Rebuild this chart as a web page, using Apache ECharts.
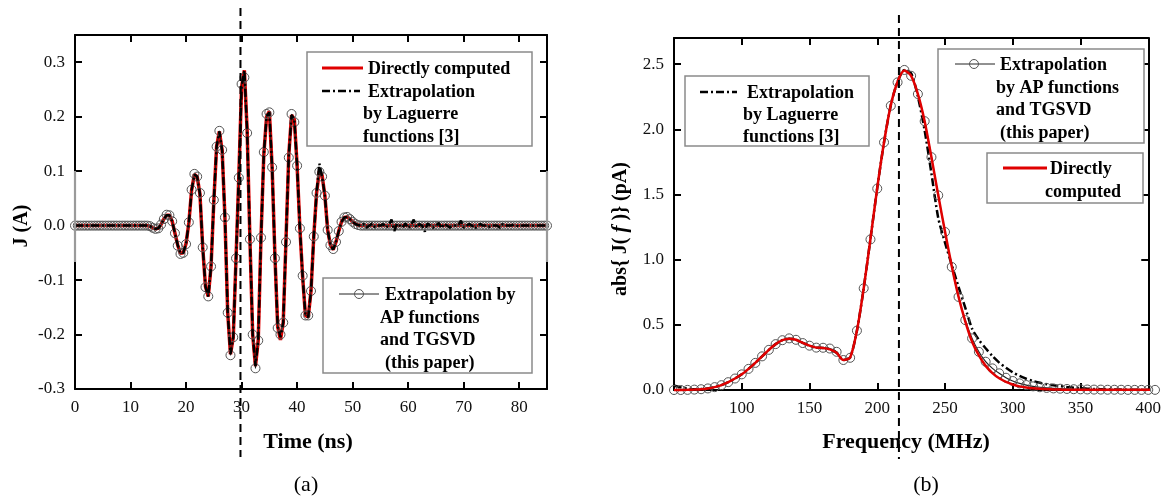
<!DOCTYPE html>
<html>
<head>
<meta charset="utf-8">
<script src="https://cdn.jsdelivr.net/npm/echarts@6/dist/echarts.min.js"></script>
<style>
html,body{margin:0;padding:0;background:#fff;}
#chart{width:1164px;height:502px;}
</style>
</head>
<body>
<div id="chart"></div>
<script>
// ---------- DATA ----------
// (a) time-domain current, sampled every 0.5 ns from 0 ns
const timeStartNs = 0;
const timeStepNs = 0.5;
const jDirect = [
 0,0,0,0,0,0,0,0,0,0,
 0,0,0,0,0,0,0,0,0,0,
 0,0,0,0,0,0,0,-0.001,-0.004,-0.006,
 -0.005,0.002,0.012,0.019,0.019,0.008,-0.014,-0.036,-0.051,-0.050,
 -0.033,0.005,0.065,0.094,0.090,0.058,-0.040,-0.112,-0.130,-0.075,
 0.045,0.145,0.173,0.138,0.015,-0.160,-0.236,-0.205,-0.060,0.090,
 0.255,0.285,0.175,-0.025,-0.200,-0.258,-0.210,-0.020,0.130,0.200,
 0.210,0.107,-0.055,-0.185,-0.210,-0.178,-0.025,0.130,0.203,0.195,
 0.110,-0.005,-0.095,-0.165,-0.168,-0.120,-0.020,0.060,0.100,0.092,
 0.055,-0.008,-0.036,-0.044,-0.030,-0.010,0.007,0.015,0.016,0.012,
 0.007,0.003,0.001,0,0,0,0,0,0,0,
 0,0,0,0,0,0,0,0,0,0,
 0,0,0,0,0,0,0,0,0,0,
 0,0,0,0,0,0,0,0,0,0,
 0,0,0,0,0,0,0,0,0,0,
 0,0,0,0,0,0,0,0,0,0,
 0,0,0,0,0,0,0,0,0,0,
 0
];
const jAP = [
 0,0,0,0,0,0,0,0,0,0,
 0,0,0,0,0,0,0,0,0,0,
 0,0,0,0,0,0,0,-0.001,-0.004,-0.006,
 -0.005,0.002,0.012,0.020,0.019,0.008,-0.014,-0.037,-0.052,-0.050,
 -0.034,0.006,0.066,0.095,0.090,0.060,-0.040,-0.113,-0.130,-0.075,
 0.047,0.145,0.174,0.139,0.015,-0.160,-0.238,-0.205,-0.060,0.088,
 0.260,0.272,0.170,-0.025,-0.200,-0.262,-0.211,-0.022,0.135,0.205,
 0.208,0.107,-0.060,-0.188,-0.200,-0.178,-0.030,0.125,0.205,0.190,
 0.110,-0.005,-0.092,-0.165,-0.165,-0.120,-0.020,0.060,0.099,0.090,
 0.055,-0.008,-0.036,-0.043,-0.030,-0.010,0.007,0.015,0.016,0.012,
 0.007,0.003,0.001,0,0,0,0,0,0,0,
 0,0,0,0,0,0,0,0,0,0,
 0,0,0,0,0,0,0,0,0,0,
 0,0,0,0,0,0,0,0,0,0,
 0,0,0,0,0,0,0,0,0,0,
 0,0,0,0,0,0,0,0,0,0,
 0,0,0,0,0,0,0,0,0,0,
 0
];
const jLaguerre = [
 0,0,0,0,0,0,0,0,0,0,
 0,0,0,0,0,0,0,0,0,0,
 0,0,0,0,0,0,0,-0.001,-0.004,-0.006,
 -0.005,0.002,0.012,0.019,0.019,0.008,-0.014,-0.036,-0.051,-0.050,
 -0.033,0.005,0.065,0.094,0.090,0.058,-0.040,-0.112,-0.130,-0.075,
 0.045,0.145,0.173,0.138,0.015,-0.160,-0.236,-0.205,-0.060,0.090,
 0.255,0.285,0.175,-0.025,-0.200,-0.258,-0.210,-0.020,0.130,0.200,
 0.208,0.107,-0.055,-0.185,-0.205,-0.178,-0.025,0.130,0.203,0.195,
 0.110,-0.005,-0.095,-0.165,-0.168,-0.120,-0.020,0.060,0.114,0.090,
 0.055,-0.008,-0.036,-0.044,-0.030,-0.010,0.007,0.015,0.016,0.012,
 0.007,0.003,0.001,0,0.003,-0.004,0,0.004,-0.003,0,
 0,0.003,-0.004,0,0.011,-0.010,0.004,0,-0.004,0.004,
 -0.005,0,0.011,-0.004,0.003,0,-0.011,0.004,0,-0.004,
 0,0.005,-0.005,0.004,0,-0.004,0,0,0,0.009,
 -0.004,0,0.003,0,-0.006,0,0.003,0,0,-0.003,
 0,0,0,-0.004,0.003,0,0,0,0.002,0,
 -0.002,0,0,0,0,0,0,0,0,0,
 0
];
const timeMarkerNs = 29.8;

// (b) spectrum magnitude, sampled every 5 MHz from 50 MHz
const freqStartMHz = 50;
const freqStepMHz = 5;
const aDirect = [
 0.000,0.000,0.001,0.003,0.006,0.012,0.022,0.037,0.060,0.088,
 0.120,0.162,0.208,0.258,0.308,0.352,0.382,0.394,0.385,0.362,
 0.340,0.325,0.323,0.312,0.285,0.230,0.250,0.455,0.780,1.160,
 1.550,1.900,2.185,2.365,2.450,2.410,2.270,2.060,1.785,1.495,
 1.215,0.950,0.715,0.525,0.370,0.265,0.185,0.130,0.090,0.062,
 0.042,0.028,0.019,0.013,0.009,0.006,0.004,0.003,0.002,0.002,
 0.001,0.001,0.001,0.001,0.001,0.001,0.001,0.001,0.001,0.001,
 0.001,0.001
];
const aAP = [
 0.000,0.000,0.001,0.003,0.006,0.012,0.022,0.037,0.060,0.088,
 0.120,0.162,0.208,0.258,0.308,0.352,0.382,0.396,0.385,0.360,
 0.340,0.325,0.324,0.318,0.293,0.230,0.247,0.455,0.780,1.155,
 1.545,1.900,2.180,2.360,2.455,2.410,2.270,2.062,1.786,1.493,
 1.212,0.944,0.714,0.536,0.396,0.293,0.217,0.166,0.128,0.094,
 0.069,0.051,0.038,0.028,0.021,0.016,0.012,0.010,0.008,0.006,
 0.005,0.004,0.003,0.003,0.002,0.002,0.002,0.001,0.001,0.001,
 0.001,0.001
];
const aLaguerre = [
 0.035,0.020,0.010,0.006,0.007,0.012,0.022,0.037,0.060,0.088,
 0.120,0.162,0.208,0.258,0.308,0.352,0.382,0.394,0.385,0.362,
 0.340,0.325,0.323,0.312,0.285,0.230,0.250,0.455,0.780,1.160,
 1.550,1.900,2.185,2.365,2.455,2.430,2.250,1.990,1.660,1.320,
 1.130,0.960,0.790,0.630,0.470,0.385,0.320,0.260,0.210,0.170,
 0.135,0.108,0.086,0.069,0.055,0.044,0.036,0.029,0.023,0.018,
 0.014,0.010,0.008,0.006,0.005,0.004,0.003,0.002,0.002,0.001,
 0.001,0.001
];
const freqMarkerMHz = 216;

// ---------- BUILD ----------
const FONT = "'Liberation Serif','Times New Roman',serif";
const toPairs = (start, step, arr) => arr.map((v, i) => [start + i * step, v]);

const dashDot = [8, 3, 2, 3];

function axisBase(extra) {
  return Object.assign({
    type: 'value',
    axisLine: { show: true, onZero: false, lineStyle: { color: '#000', width: 2 } },
    axisTick: { show: true, inside: true, length: 7, lineStyle: { color: '#000', width: 2 } },
    splitLine: { show: false },
    axisLabel: { color: '#111', fontFamily: FONT, fontSize: 17, margin: 10 }
  }, extra);
}

const chart = echarts.init(document.getElementById('chart'), null, { renderer: 'canvas' });

const option = {
  backgroundColor: '#fff',
  animation: false,
  grid: [
    { left: 75, top: 35, width: 472, height: 354 },
    { left: 674, top: 38, width: 475, height: 352 }
  ],
  xAxis: [
    axisBase({ gridIndex: 0, position: 'bottom', min: 0, max: 85, interval: 10,
      axisLabel: { color: '#111', fontFamily: FONT, fontSize: 17, margin: 10, showMaxLabel: false } }),
    axisBase({ gridIndex: 0, position: 'top', min: 0, max: 85, interval: 10, axisLabel: { show: false } }),
    axisBase({ gridIndex: 1, position: 'bottom', min: 50, max: 400, interval: 50,
      axisLabel: { color: '#111', fontFamily: FONT, fontSize: 17, margin: 10, showMinLabel: false } }),
    axisBase({ gridIndex: 1, position: 'top', min: 50, max: 400, interval: 50, axisLabel: { show: false } })
  ],
  yAxis: [
    axisBase({ gridIndex: 0, position: 'left', min: -0.3, max: 0.35, interval: 0.1,
      axisLabel: { color: '#111', fontFamily: FONT, fontSize: 17, margin: 10, showMaxLabel: false,
        formatter: v => v.toFixed(1) } }),
    axisBase({ gridIndex: 0, position: 'right', min: -0.3, max: 0.35, interval: 0.1, axisLabel: { show: false } }),
    axisBase({ gridIndex: 1, position: 'left', min: 0, max: 2.7, interval: 0.5,
      axisLabel: { color: '#111', fontFamily: FONT, fontSize: 17, margin: 10, showMaxLabel: false,
        formatter: v => v.toFixed(1) } }),
    axisBase({ gridIndex: 1, position: 'right', min: 0, max: 2.7, interval: 0.5, axisLabel: { show: false } })
  ],
  series: [
    // (a)
    { name: 'Directly computed (a)', type: 'line', xAxisIndex: 0, yAxisIndex: 0, clip: false,
      data: toPairs(timeStartNs, timeStepNs, jDirect), showSymbol: false, z: 2,
      lineStyle: { color: '#e00000', width: 3.5 } },
    { name: 'AP (a)', type: 'line', xAxisIndex: 0, yAxisIndex: 0, clip: false,
      data: toPairs(timeStartNs, timeStepNs, jAP), z: 3,
      symbol: 'circle', symbolSize: 9, showSymbol: true,
      itemStyle: { color: 'rgba(0,0,0,0)', borderColor: '#555', borderWidth: 1 },
      lineStyle: { color: '#222', width: 1 } },
    { name: 'Laguerre (a)', type: 'line', xAxisIndex: 0, yAxisIndex: 0, clip: false,
      data: toPairs(timeStartNs, timeStepNs, jLaguerre), showSymbol: false, z: 4,
      lineStyle: { color: '#000', width: 2.5, type: dashDot } },
    // (b)
    { name: 'Laguerre (b)', type: 'line', xAxisIndex: 2, yAxisIndex: 2, clip: false,
      data: toPairs(freqStartMHz, freqStepMHz, aLaguerre), showSymbol: false, z: 2, smooth: 0.25,
      lineStyle: { color: '#000', width: 2.5, type: dashDot } },
    { name: 'AP (b)', type: 'line', xAxisIndex: 2, yAxisIndex: 2, clip: false,
      data: toPairs(freqStartMHz, freqStepMHz, aAP), z: 3, smooth: 0.25,
      symbol: 'circle', symbolSize: 9, showSymbol: true,
      itemStyle: { color: 'rgba(0,0,0,0)', borderColor: '#555', borderWidth: 1 },
      lineStyle: { color: '#222', width: 1.2 } },
    { name: 'Directly computed (b)', type: 'line', xAxisIndex: 2, yAxisIndex: 2, clip: false,
      data: toPairs(freqStartMHz, freqStepMHz, aDirect), showSymbol: false, z: 4, smooth: 0.25,
      lineStyle: { color: '#e00000', width: 2.5 } }
  ]
};
chart.setOption(option);

// ---------- GRAPHIC (legends, titles, markers) ----------
function txt(x, y, s, o) {
  o = o || {};
  return { type: 'text', x: x, y: y, rotation: o.rotation || 0, z: 200,
    style: { text: s, fontFamily: FONT, fontSize: o.size || 18, fontWeight: o.weight || 'bold',
      fill: '#000', align: o.align || 'left', verticalAlign: 'middle', rich: o.rich } };
}
function line(x1, y1, x2, y2, stroke, w, dash, z) {
  return { type: 'line', z: z || 150, shape: { x1: x1, y1: y1, x2: x2, y2: y2 },
    style: { stroke: stroke, lineWidth: w, lineDash: dash || null } };
}
function box(x, y, w, h) {
  return { type: 'rect', z: 120, shape: { x: x, y: y, width: w, height: h },
    style: { fill: '#fff', stroke: '#8a8a8a', lineWidth: 1.5 } };
}
function circ(cx, cy) {
  return { type: 'circle', z: 160, shape: { cx: cx, cy: cy, r: 4.5 },
    style: { fill: 'rgba(0,0,0,0)', stroke: '#555', lineWidth: 1 } };
}

const xa = chart.convertToPixel({ xAxisIndex: 0 }, timeMarkerNs);
const xb = chart.convertToPixel({ xAxisIndex: 2 }, freqMarkerMHz);

const g = [];
// vertical dashed markers
g.push(line(xa, 8, xa, 457, '#000', 2, [8, 5], 110));
g.push(line(xb, 15, xb, 459, '#000', 2, [8, 5], 110));
// faint artifact segments on left chart frame
g.push(line(75, 171, 75, 262, '#9a9a9a', 2.2, null, 115));
g.push(line(547, 171, 547, 262, '#9a9a9a', 2.2, null, 115));

// (a) legend top
g.push(box(307, 52, 225, 94));
g.push(line(322, 68, 363, 68, '#e00000', 3));
g.push(txt(368, 69, 'Directly computed'));
g.push(line(322, 91, 360, 91, '#000', 2.5, dashDot));
g.push(txt(368, 92, 'Extrapolation'));
g.push(txt(363, 114, 'by Laguerre'));
g.push(txt(363, 137, 'functions [3]'));
// (a) legend bottom
g.push(box(323, 278, 209, 95));
g.push(line(339, 294, 379, 294, '#222', 1));
g.push(circ(359, 294));
g.push(txt(385, 295, 'Extrapolation by'));
g.push(txt(380, 318, 'AP functions'));
g.push(txt(380, 340, 'and TGSVD'));
g.push(txt(385, 363, '(this paper)'));

// (b) legend left
g.push(box(685, 76, 184, 70));
g.push(line(700, 92, 737, 92, '#000', 2.5, dashDot));
g.push(txt(747, 93, 'Extrapolation'));
g.push(txt(743, 115, 'by Laguerre'));
g.push(txt(743, 137, 'functions [3]'));
// (b) legend right top
g.push(box(938, 49, 206, 94));
g.push(line(955, 64, 995, 64, '#222', 1));
g.push(circ(974, 64));
g.push(txt(1000, 65, 'Extrapolation'));
g.push(txt(996, 88, 'by AP functions'));
g.push(txt(996, 110, 'and TGSVD'));
g.push(txt(1000, 133, '(this paper)'));
// (b) legend right bottom
g.push(box(987, 153, 156, 50));
g.push(line(1003, 168, 1047, 168, '#e00000', 3));
g.push(txt(1050, 169, 'Directly'));
g.push(txt(1045, 192, 'computed'));

// axis titles
g.push(txt(308, 442, 'Time (ns)', { size: 22, align: 'center' }));
g.push(txt(906, 442, 'Frequency (MHz)', { size: 22, align: 'center' }));
g.push(txt(22, 226, 'J (A)', { size: 20, align: 'center', rotation: Math.PI / 2 }));
g.push(txt(621, 229, 'abs{ J( {i|f} )} (pA)', { size: 20, align: 'center', rotation: Math.PI / 2,
  rich: { i: { fontFamily: FONT, fontSize: 21, fontWeight: 'bold', fontStyle: 'italic', fill: '#000' } } }));
// panel labels
g.push(txt(306, 485, '(a)', { size: 22, weight: 'normal', align: 'center' }));
g.push(txt(926, 485, '(b)', { size: 22, weight: 'normal', align: 'center' }));

chart.setOption({ graphic: { elements: g } });
</script>
</body>
</html>
